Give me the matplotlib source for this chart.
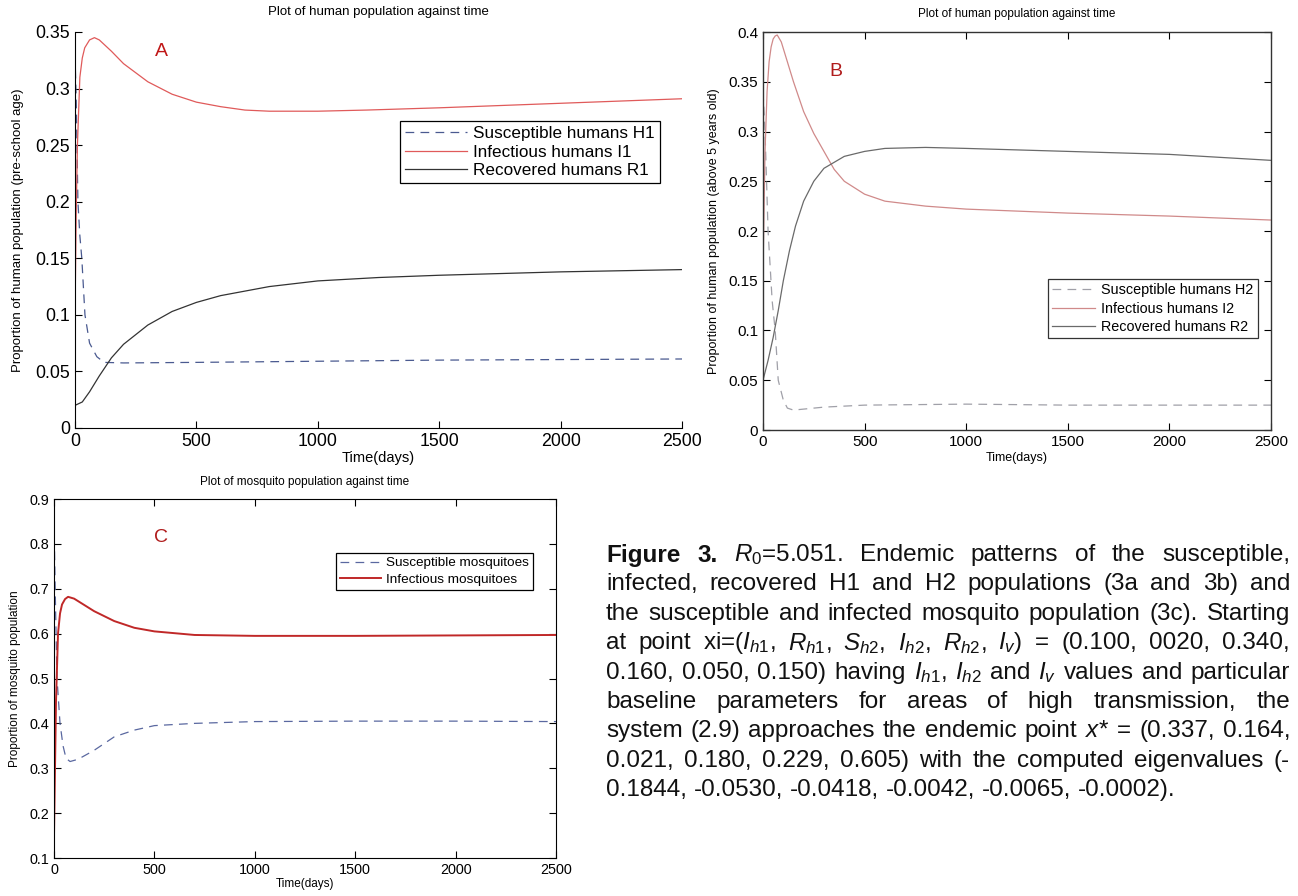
import matplotlib
matplotlib.use("Agg")
import matplotlib.pyplot as plt
from matplotlib import font_manager
from matplotlib.ticker import FuncFormatter

plt.rcParams['font.family'] = ['Liberation Sans', 'DejaVu Sans']

# ---- panel A: pre-school humans ----
tA_s = [0, 5, 12, 20, 28, 41, 60, 90, 120, 200, 500, 1000, 1500, 2000, 2500]
A_sus = [0.33, 0.29, 0.20, 0.17, 0.15, 0.10, 0.075, 0.063, 0.058, 0.0575, 0.058, 0.059, 0.060, 0.0605, 0.061]
tA_i = [0, 5, 10, 20, 30, 40, 60, 80, 100, 150, 200, 300, 400, 500, 600, 700, 800, 1000, 1200, 1500, 2000, 2500]
A_inf = [0.10, 0.19, 0.25, 0.31, 0.327, 0.336, 0.343, 0.345, 0.343, 0.333, 0.322, 0.306, 0.295, 0.288, 0.284,
         0.281, 0.280, 0.280, 0.281, 0.283, 0.287, 0.291]
tA_r = [0, 30, 60, 100, 150, 200, 300, 400, 500, 600, 800, 1000, 1250, 1500, 2000, 2500]
A_rec = [0.020, 0.023, 0.032, 0.046, 0.062, 0.074, 0.091, 0.103, 0.111, 0.117, 0.125, 0.130, 0.133, 0.135, 0.138, 0.140]

# ---- panel B: humans above 5 years ----
tB_s = [0, 10, 25, 45, 60, 75, 100, 120, 150, 200, 300, 500, 1000, 1500, 2500]
B_sus = [0.34, 0.30, 0.20, 0.13, 0.10, 0.05, 0.03, 0.022, 0.020, 0.021, 0.023, 0.025, 0.026, 0.025, 0.025]
tB_i = [0, 10, 20, 30, 40, 50, 60, 70, 90, 120, 150, 200, 250, 300, 350, 400, 500, 600, 800, 1000, 1500, 2000, 2500]
B_inf = [0.16, 0.28, 0.34, 0.37, 0.385, 0.393, 0.396, 0.397, 0.39, 0.37, 0.35, 0.32, 0.298, 0.28, 0.262, 0.25,
         0.237, 0.23, 0.225, 0.222, 0.218, 0.215, 0.211]
tB_r = [0, 25, 50, 75, 100, 130, 160, 200, 250, 300, 400, 500, 600, 800, 1000, 1500, 2000, 2500]
B_rec = [0.05, 0.07, 0.093, 0.12, 0.15, 0.18, 0.205, 0.23, 0.25, 0.263, 0.275, 0.28, 0.283, 0.284, 0.283, 0.28,
         0.277, 0.271]

# ---- panel C: mosquitoes ----
tC_s = [0, 8, 15, 30, 45, 60, 80, 120, 200, 300, 400, 500, 700, 1000, 1500, 2000, 2500]
C_sus = [0.85, 0.65, 0.50, 0.40, 0.35, 0.322, 0.315, 0.32, 0.34, 0.37, 0.385, 0.395, 0.40, 0.404, 0.405, 0.405, 0.404]
tC_i = [0, 10, 20, 30, 40, 55, 70, 100, 150, 200, 300, 400, 500, 700, 1000, 1500, 2000, 2500]
C_inf = [0.15, 0.45, 0.60, 0.645, 0.665, 0.677, 0.682, 0.678, 0.664, 0.65, 0.628, 0.613, 0.605, 0.597, 0.595,
         0.595, 0.596, 0.597]

fig = plt.figure(figsize=(12.98, 8.96), dpi=100)
W, H = 1298.0, 896.0


def place(x0, x1, ytop, ybot):
    return fig.add_axes([x0 / W, 1 - ybot / H, (x1 - x0) / W, (ybot - ytop) / H])


def boxed_legend(ax, anchor, size, hlen, lspace, edge='black'):
    lg = ax.legend(loc='upper right', bbox_to_anchor=anchor, fontsize=size, handlelength=hlen,
                   fancybox=False, framealpha=1, edgecolor=edge, borderpad=0.3, labelspacing=lspace,
                   handletextpad=0.4, borderaxespad=0)
    lg.get_frame().set_linewidth(0.9)
    return lg


fmt = FuncFormatter(lambda v, p: ('%g' % round(v, 4)))

# panel A
axA = place(75, 682, 32, 428)
axA.plot(tA_s, A_sus, color='#4a5a90', lw=0.9, dashes=(7, 5), label='Susceptible humans H1')
axA.plot(tA_i, A_inf, color='#e05a5a', lw=0.9, label='Infectious humans I1')
axA.plot(tA_r, A_rec, color='#333333', lw=0.9, label='Recovered humans R1')
axA.set_xlim(0, 2500)
axA.set_ylim(0, 0.35)
axA.set_yticks([0, 0.05, 0.1, 0.15, 0.2, 0.25, 0.3, 0.35])
axA.spines['top'].set_visible(False)
axA.spines['right'].set_visible(False)
axA.tick_params(direction='in', labelsize=12.8, length=5)
axA.yaxis.set_major_formatter(fmt)
axA.set_title('Plot of human population against time', fontsize=9.5, pad=12)
axA.set_xlabel('Time(days)', fontsize=10.5, labelpad=1)
axA.set_ylabel('Proportion of human population (pre-school age)', fontsize=9.5, labelpad=8)
axA.text(0.132, 0.94, 'A', transform=axA.transAxes, color='#c01818', fontsize=14)
boxed_legend(axA, (0.964, 0.775), 12.3, 3.6, 0.2)

# panel B
axB = place(763, 1271, 32, 430)
axB.plot(tB_s, B_sus, color='#a0a0a8', lw=0.9, dashes=(7, 5), label='Susceptible humans H2')
axB.plot(tB_i, B_inf, color='#d08a8a', lw=0.9, label='Infectious humans I2')
axB.plot(tB_r, B_rec, color='#6a6a6a', lw=0.9, label='Recovered humans R2')
axB.set_xlim(0, 2500)
axB.set_ylim(0, 0.4)
axB.set_yticks([0, 0.05, 0.1, 0.15, 0.2, 0.25, 0.3, 0.35, 0.4])
axB.tick_params(direction='in', labelsize=11, length=5, top=True, right=True)
axB.yaxis.set_major_formatter(fmt)
for s in axB.spines.values():
    s.set_linewidth(1.0)
    s.set_color('#333333')
axB.set_title('Plot of human population against time', fontsize=8.5, pad=11)
axB.set_xlabel('Time(days)', fontsize=9, labelpad=2)
axB.set_ylabel('Proportion of human population (above 5 years old)', fontsize=9, labelpad=6)
axB.text(0.13, 0.89, 'B', transform=axB.transAxes, color='#b01c1c', fontsize=14)
boxed_legend(axB, (0.974, 0.379), 10.4, 3.0, 0.3, edge='#333333')

# panel C
axC = place(54, 556, 499, 858)
axC.plot(tC_s, C_sus, color='#5a68a0', lw=0.9, dashes=(7, 5), label='Susceptible mosquitoes')
axC.plot(tC_i, C_inf, color='#c02828', lw=1.4, label='Infectious mosquitoes')
axC.set_xlim(0, 2500)
axC.set_ylim(0.1, 0.9)
axC.set_yticks([0.1, 0.2, 0.3, 0.4, 0.5, 0.6, 0.7, 0.8, 0.9])
axC.tick_params(direction='in', labelsize=10.4, length=5, top=True, right=True)
axC.yaxis.set_major_formatter(fmt)
axC.set_title('Plot of mosquito population against time', fontsize=8.5, pad=10)
axC.set_xlabel('Time(days)', fontsize=8.5, labelpad=1)
axC.set_ylabel('Proportion of mosquito population', fontsize=8.5, labelpad=6)
axC.text(0.2, 0.88, 'C', transform=axC.transAxes, color='#b01c1c', fontsize=14)
boxed_legend(axC, (0.954, 0.85), 9.7, 3.0, 0.33)

# ---- caption, justified word by word ----
names = {f.name for f in font_manager.fontManager.ttflist}
cap_font = 'Liberation Sans Narrow' if 'Liberation Sans Narrow' in names else 'Liberation Sans'
plt.rcParams['mathtext.fontset'] = 'custom'
plt.rcParams['mathtext.rm'] = cap_font
plt.rcParams['mathtext.it'] = cap_font + ':italic'

caption_lines = [
    [('Figure', 'bold'), ('3.', 'bold'), (r'$R_0$=5.051.', None), ('Endemic', None), ('patterns', None),
     ('of', None), ('the', None), ('susceptible,', None)],
    'infected, recovered H1 and H2 populations (3a and 3b) and',
    'the susceptible and infected mosquito population (3c). Starting',
    r'at point xi=($I_{h1}$, $R_{h1}$, $S_{h2}$, $I_{h2}$, $R_{h2}$, $I_v$) = (0.100, 0020, 0.340,',
    r'0.160, 0.050, 0.150) having $I_{h1}$, $I_{h2}$ and $I_v$ values and particular',
    'baseline parameters for areas of high transmission, the',
    r'system (2.9) approaches the endemic point $x$* = (0.337, 0.164,',
    '0.021, 0.180, 0.229, 0.605) with the computed eigenvalues (-',
    '0.1844, -0.0530, -0.0418, -0.0042, -0.0065, -0.0002).',
]

cap_x0, cap_x1, cap_y0, cap_dy = 606, 1290, 555, 29.4
renderer = fig.canvas.get_renderer()


def make_words(line, size):
    words = line if isinstance(line, list) else [(w, None) for w in line.split(' ')]
    return [fig.text(0, 0, w, fontsize=size, family=cap_font, va='center', ha='left',
                     weight=weight or 'normal', color='#111111') for w, weight in words]


# size the caption so the tightest line ("the susceptible ... Starting") nearly fills the column
probe = make_words(caption_lines[2], 10)
nat = sum(t.get_window_extent(renderer).width for t in probe) + 0.28 * 10 * 1.389 * (len(probe) - 1)
for t in probe:
    t.remove()
cap_size = 10 * (cap_x1 - cap_x0) * 0.985 / nat

for i, line in enumerate(caption_lines):
    objs = make_words(line, cap_size)
    y = 1 - (cap_y0 + i * cap_dy) / H
    widths = [t.get_window_extent(renderer).width for t in objs]
    if i < len(caption_lines) - 1:
        gap = (cap_x1 - cap_x0 - sum(widths)) / (len(objs) - 1)
    else:
        gap = cap_size * 1.389 * 0.28
    x = cap_x0
    for t, wd in zip(objs, widths):
        t.set_position((x / W, y))
        x += wd + gap

fig.savefig('out.png', dpi=100)
